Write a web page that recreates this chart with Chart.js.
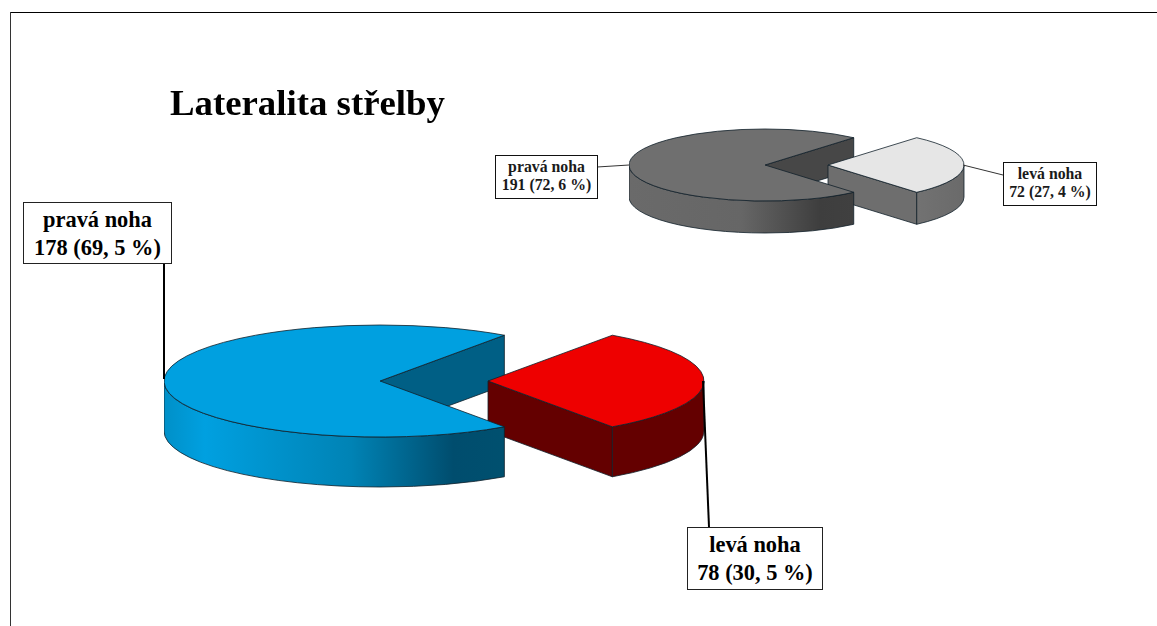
<!DOCTYPE html>
<html lang="cs">
<head>
<meta charset="utf-8">
<title>Lateralita střelby</title>
<script src="https://cdn.jsdelivr.net/npm/chart.js@4"></script>
<style>
  html, body { margin: 0; padding: 0; background: #fff; overflow: hidden; }
  #page { position: relative; width: 1157px; height: 626px; overflow: hidden; font-family: "Liberation Serif", serif; font-weight: bold; color: #000; }
  canvas { position: absolute; }
  svg { position: absolute; left: 0; top: 0; }
  #frameTop { position: absolute; left: 10px; top: 12px; width: 1147px; height: 1px; background: #000; }
  #frameLeft { position: absolute; left: 10px; top: 12px; width: 1px; height: 614px; background: #333; }
  #title { position: absolute; left: 170px; top: 82px; font-size: 36.8px; line-height: 42px; white-space: nowrap; }
  .lbl { position: absolute; box-sizing: border-box; background: #fff; text-align: center; white-space: nowrap; }
  .big { border: 1px solid #222; font-size: 22.4px; line-height: 28px; padding-top: 3px; }
  .small { border: 1px solid #111; font-size: 15.8px; line-height: 18px; padding-top: 2px; color: #1a1a1a; }
</style>
</head>
<body>
<div id="page">
  <div id="frameTop"></div>
  <div id="frameLeft"></div>
  <canvas id="pieSmall"></canvas>
  <canvas id="pieBig"></canvas>
  <svg width="1157" height="626">
    <line x1="164" y1="263" x2="164" y2="379" stroke="#000" stroke-width="2"/>
    <line x1="703" y1="381" x2="709" y2="527" stroke="#000" stroke-width="2"/>
    <line x1="597" y1="167" x2="629" y2="165" stroke="#333" stroke-width="1"/>
    <line x1="963" y1="165" x2="1003" y2="175" stroke="#333" stroke-width="1"/>
  </svg>
  <div id="title">Lateralita střelby</div>
  <div class="lbl big" id="bigL0" style="left:23px;top:202px;width:149px;height:62px"></div>
  <div class="lbl big" id="bigL1" style="left:687px;top:527px;width:136px;height:63px"></div>
  <div class="lbl small" id="smallL0" style="left:495px;top:155px;width:103px;height:44px"></div>
  <div class="lbl small" id="smallL1" style="left:1003px;top:162px;width:94px;height:44px"></div>
</div>
<script>
const categories = ['pravá noha', 'levá noha'];
const bigValues = [178, 78];
const bigPercents = ['69, 5 %', '30, 5 %'];
const smallValues = [191, 72];
const smallPercents = ['72, 6 %', '27, 4 %'];

const bigTops = ['#00a0e0', '#ee0000'];
const bigWalls = [
    [[0, '#0090c8'], [0.12, '#00a0e0'], [0.55, '#0083b5'], [0.85, '#004d6e'], [1, '#00506f']],
    [[0, '#640000'], [1, '#640000']]
];
const bigFaces = ['#005f85', '#640000'];
const smallTops = ['#6f6f6f', '#e6e6e6'];
const smallWalls = [
    [[0, '#6a6a6a'], [0.5, '#666666'], [0.85, '#3e3e3e'], [1, '#404040']],
    [[0, '#727272'], [1, '#6a6a6a']]
];
const smallFaces = ['#474747', '#6e6e6e'];

// tilts the flat pie and gives it a side wall, everything read from the arc elements
const tiltPlugin = {
    id: 'tilt',
    afterDatasetsUpdate(chart, args, opts) {
        // the built-in offset option also changes the radius, so pull the slice out here
        chart.getDatasetMeta(0).data.forEach((a, i) => {
            const mid = (a.startAngle + a.endAngle) / 2;
            a.x += Math.cos(mid) * opts.explode[i];
            a.y += Math.sin(mid) * opts.explode[i] * opts.squash;
        });
    },
    beforeDatasetsDraw(chart, args, opts) {
        const arcs = chart.getDatasetMeta(0).data;
        const ctx = chart.ctx;
        const flat = arcs.filter((a, i) => !opts.explode[i]);
        const moved = arcs.filter((a, i) => opts.explode[i]);
        flat.forEach(a => drawFaces(ctx, a, opts));
        moved.forEach(a => { drawFaces(ctx, a, opts); drawWall(ctx, a, opts); });
        flat.forEach(a => drawWall(ctx, a, opts));
        const cy = arcs[0].y;
        ctx.save();
        ctx.translate(0, cy);
        ctx.scale(1, opts.squash);
        ctx.translate(0, -cy);
    },
    afterDatasetsDraw(chart, args, opts) {
        const ctx = chart.ctx;
        ctx.restore();
        chart.getDatasetMeta(0).data.forEach(a => {
            ctx.beginPath();
            ctx.moveTo(a.x, a.y);
            ctx.ellipse(a.x, a.y, a.outerRadius, a.outerRadius * opts.squash, 0, a.startAngle, a.endAngle);
            ctx.closePath();
            ctx.strokeStyle = opts.line;
            ctx.lineWidth = 0.8;
            ctx.stroke();
        });
    }
};

function drawFaces(ctx, a, opts) {
    const faces = [[a.startAngle, -1], [a.endAngle, 1]];
    faces.forEach(([t, side]) => {
        if (Math.sin(t + side * Math.PI / 2) <= 0) return;
        const ex = a.x + a.outerRadius * Math.cos(t);
        const ey = a.y + a.outerRadius * opts.squash * Math.sin(t);
        ctx.beginPath();
        ctx.moveTo(a.x, a.y);
        ctx.lineTo(ex, ey);
        ctx.lineTo(ex, ey + opts.depth);
        ctx.lineTo(a.x, a.y + opts.depth);
        ctx.closePath();
        ctx.fillStyle = opts.faces[a.$context.index];
        ctx.fill();
        ctx.strokeStyle = opts.line;
        ctx.lineWidth = 0.8;
        ctx.stroke();
    });
}

function drawWall(ctx, a, opts) {
    const r = a.outerRadius;
    for (let k = -1; k <= 1; k++) {
        const from = Math.max(a.startAngle, k * 2 * Math.PI);
        const to = Math.min(a.endAngle, k * 2 * Math.PI + Math.PI);
        if (to <= from) continue;
        const x0 = a.x + r * Math.cos(to);
        const x1 = a.x + r * Math.cos(from);
        const grad = ctx.createLinearGradient(x0, 0, x1, 0);
        opts.walls[a.$context.index].forEach(s => grad.addColorStop(s[0], s[1]));
        ctx.beginPath();
        ctx.ellipse(a.x, a.y, r, r * opts.squash, 0, from, to);
        ctx.ellipse(a.x, a.y + opts.depth, r, r * opts.squash, 0, to, from, true);
        ctx.closePath();
        ctx.fillStyle = grad;
        ctx.fill();
        ctx.strokeStyle = opts.line;
        ctx.lineWidth = 0.8;
        ctx.stroke();
    }
}

function makePie(id, values, tops, walls, faces, left, top, radius, explode, squash, depth) {
    const el = document.getElementById(id);
    el.style.left = left + 'px';
    el.style.top = top + 'px';
    el.width = 2 * radius + explode + 2;
    el.height = 2 * radius;
    // the second slice is pulled out straight to the right
    const rotation = 90 + 180 * values[1] / (values[0] + values[1]);
    return new Chart(el.getContext('2d'), {
        type: 'pie',
        data: {
            labels: categories,
            datasets: [{
                data: values,
                backgroundColor: tops,
                borderWidth: 0,
                hoverOffset: 0,
                clip: false
            }]
        },
        options: {
            responsive: false,
            animation: false,
            events: [],
            rotation: rotation,
            layout: { padding: { right: explode + 2 } },
            plugins: {
                legend: { display: false },
                tooltip: { enabled: false },
                tilt: { explode: [0, explode], squash: squash, depth: depth, walls: walls, faces: faces, line: '#10202a' }
            }
        },
        plugins: [tiltPlugin]
    });
}

makePie('pieBig', bigValues, bigTops, bigWalls, bigFaces, 164, 165, 216, 108, 56 / 216, 50);
makePie('pieSmall', smallValues, smallTops, smallWalls, smallFaces, 629, 29, 136, 63, 36 / 136, 32);

categories.forEach((c, i) => {
    document.getElementById('bigL' + i).innerHTML = c + '<br>' + bigValues[i] + ' (' + bigPercents[i] + ')';
    document.getElementById('smallL' + i).innerHTML = c + '<br>' + smallValues[i] + ' (' + smallPercents[i] + ')';
});
</script>
</body>
</html>
